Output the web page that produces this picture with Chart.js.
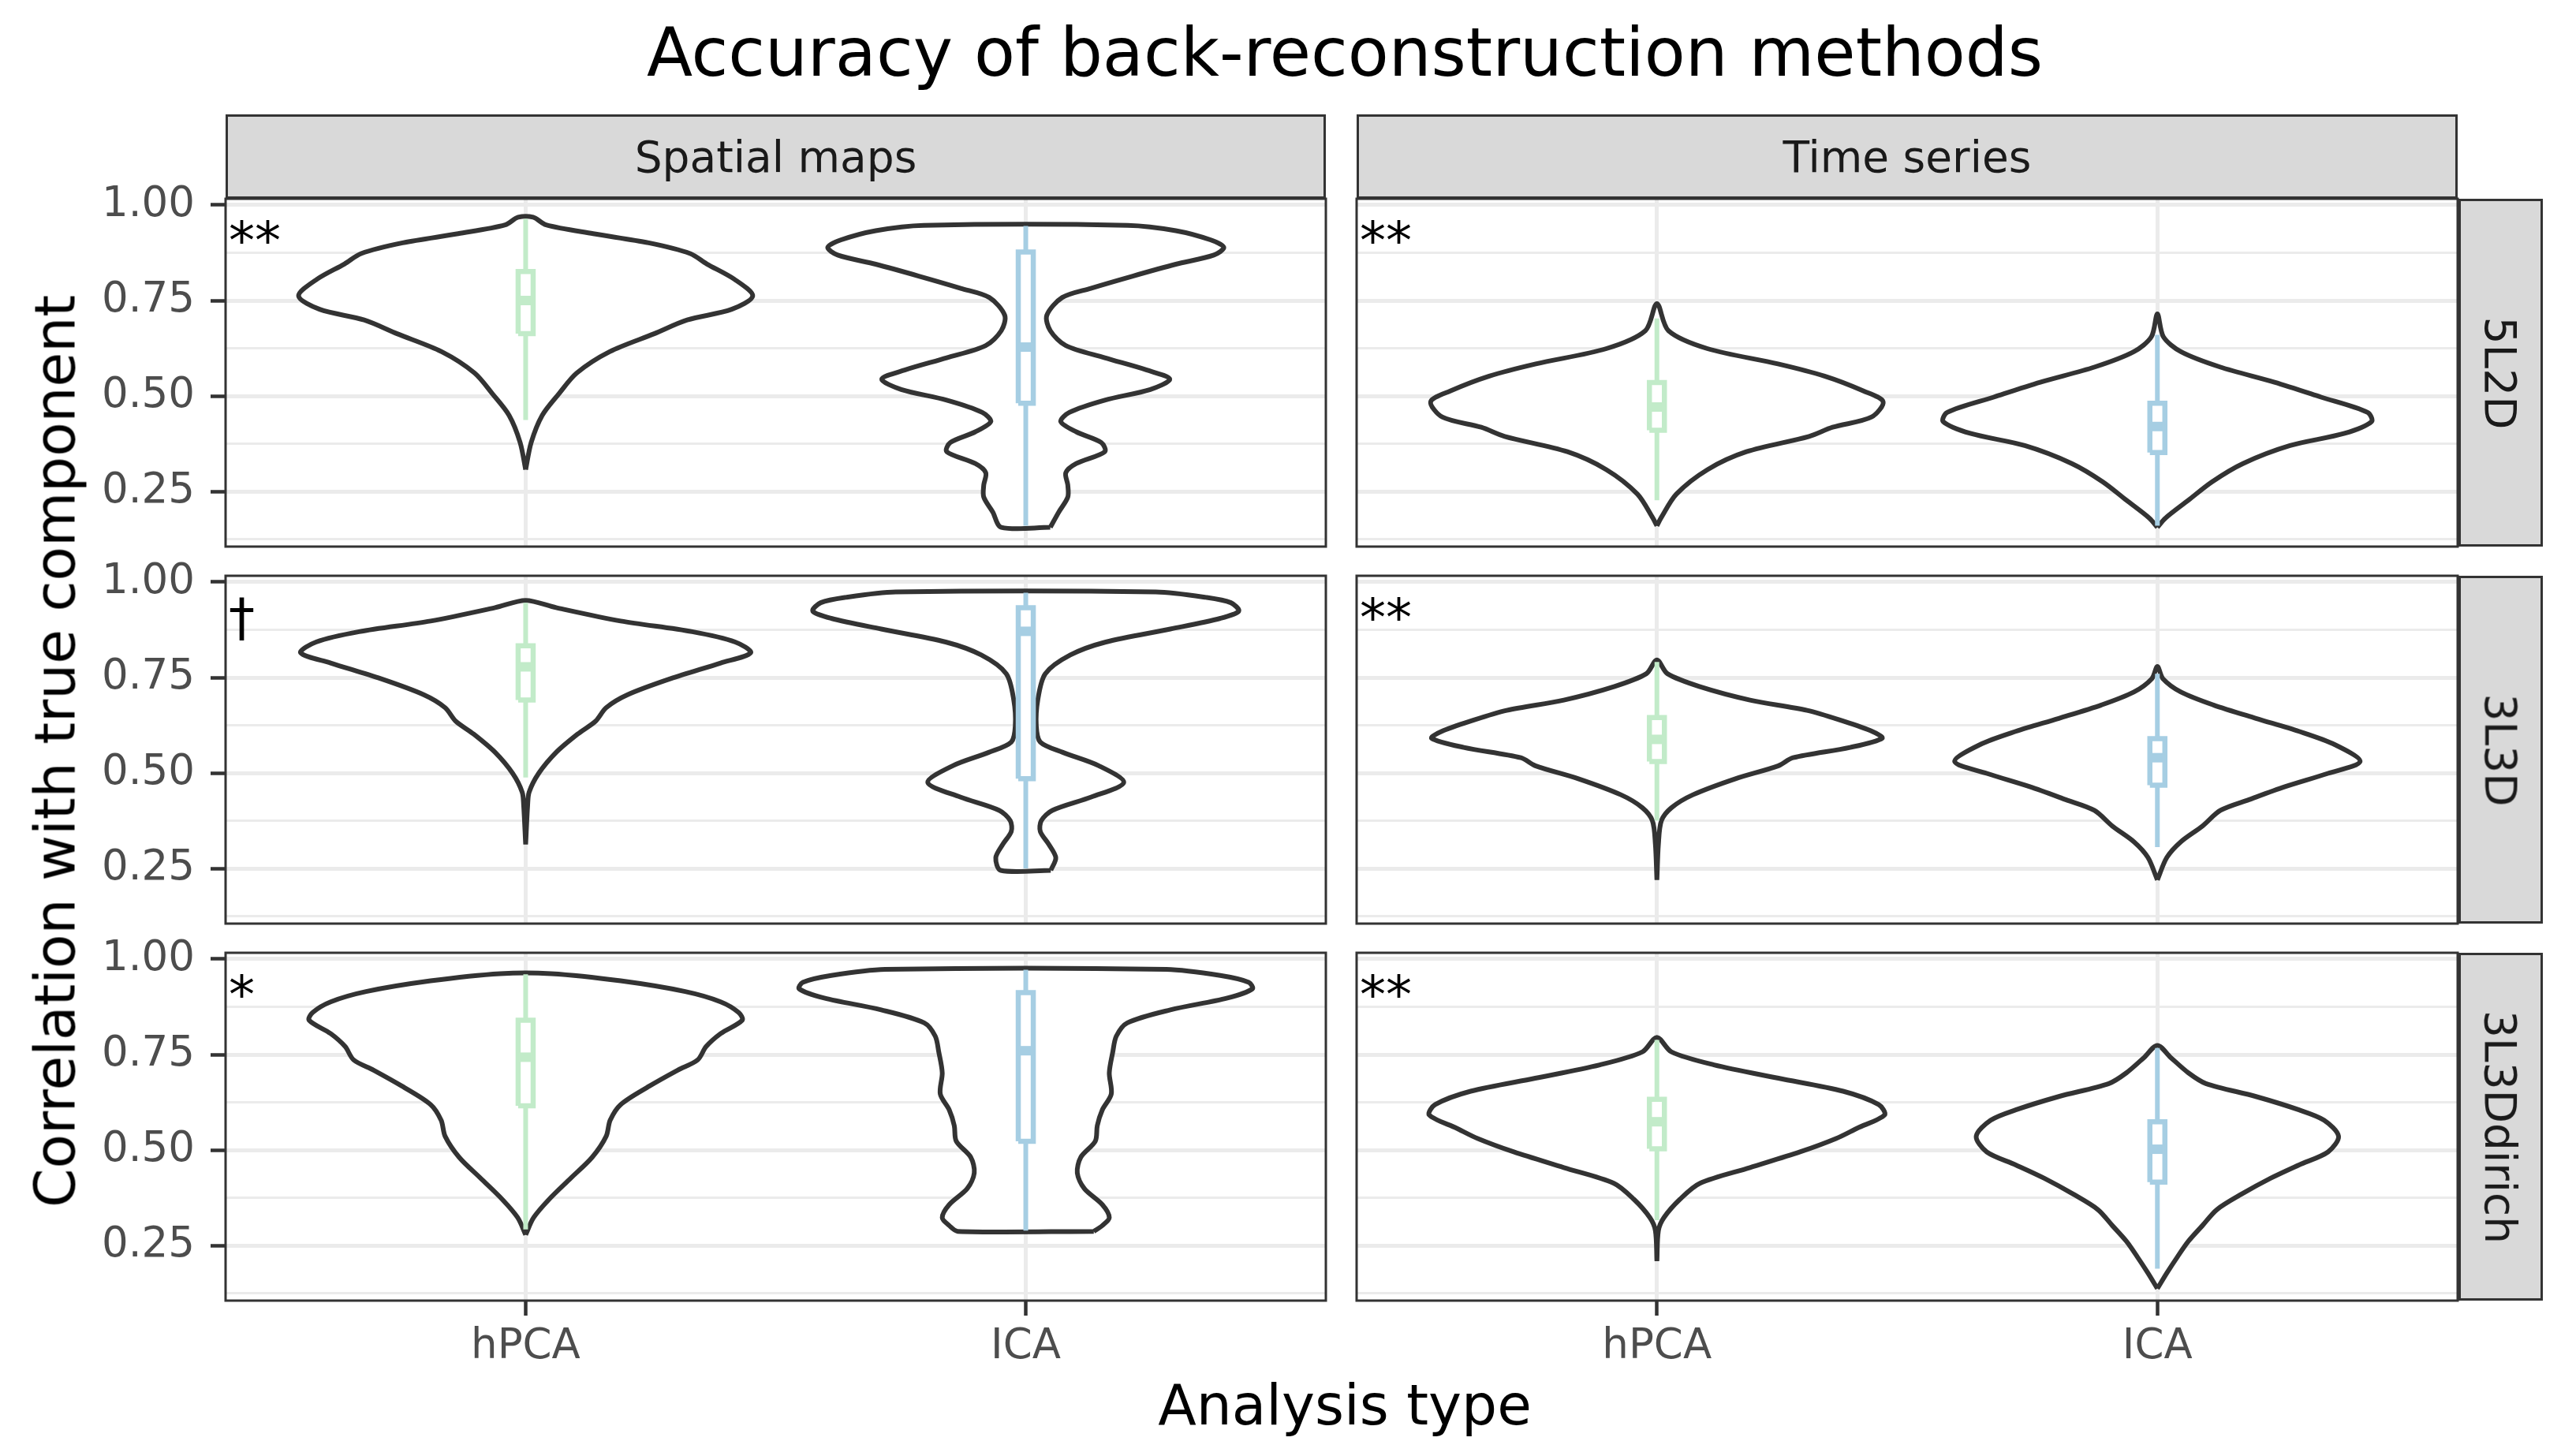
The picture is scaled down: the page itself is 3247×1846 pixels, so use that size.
<!DOCTYPE html>
<html>
<head>
<meta charset="utf-8">
<script src="https://cdn.jsdelivr.net/npm/chart.js@4.4.1/dist/chart.umd.min.js"></script>
<style>
    html, body { margin: 0; padding: 0; background: #ffffff; }
    #fig { position: relative; width: 3247px; height: 1846px; overflow: hidden; font-family: "DejaVu Sans", sans-serif; }
    #fig canvas { position: absolute; }
    .txt { position: absolute; line-height: 1; white-space: nowrap; }
    .strip { position: absolute; box-sizing: border-box; background: #d9d9d9; border: 3px solid #333333;
             color: #1a1a1a; font-size: 55px; display: flex; align-items: center; justify-content: center; }
</style>
</head>
<body>
<div id="fig"></div>
<script>

const methods = ["hPCA", "ICA"];
const analyses = ["Spatial maps", "Time series"];
const simulations = ["5L2D", "3L3D", "3L3Ddirich"];
const signif = [["**", "**"], ["†", "**"], ["*", "**"]];

const yTicks = [0.125, 0.25, 0.375, 0.5, 0.625, 0.75, 0.875, 1.0];
const yMajor = [0.25, 0.5, 0.75, 1.0];

// violin outlines: correlation (bottom to top) and half width in category units

const sm5L2D_hPCA_y = [0.307, 0.378, 0.449, 0.505, 0.560, 0.616, 0.663, 0.699, 0.727, 0.762, 0.806, 0.846, 0.873, 0.901, 0.925, 0.948, 0.968];
const sm5L2D_hPCA_w = [0, 0.011, 0.033, 0.066, 0.102, 0.168, 0.257, 0.323, 0.412, 0.454, 0.417, 0.362, 0.329, 0.246, 0.135, 0.041, 0.015];

const sm5L2D_ICA_y = [0.156, 0.196, 0.235, 0.267, 0.299, 0.323, 0.354, 0.378, 0.406, 0.433, 0.457, 0.489, 0.517, 0.544, 0.568, 0.600, 0.632, 0.671, 0.711, 0.758, 0.782, 0.814, 0.845, 0.869, 0.889, 0.909, 0.933, 0.947];
const sm5L2D_ICA_w = [0.049, 0.066, 0.084, 0.084, 0.080, 0.101, 0.158, 0.151, 0.101, 0.070, 0.087, 0.158, 0.249, 0.288, 0.242, 0.158, 0.080, 0.049, 0.042, 0.073, 0.130, 0.214, 0.300, 0.376, 0.396, 0.369, 0.300, 0.204];

const ts5L2D_hPCA_y = [0.160, 0.180, 0.243, 0.307, 0.354, 0.394, 0.418, 0.445, 0.485, 0.513, 0.552, 0.584, 0.624, 0.671, 0.742];
const ts5L2D_hPCA_w = [0, 0.008, 0.039, 0.101, 0.179, 0.304, 0.351, 0.429, 0.452, 0.413, 0.335, 0.242, 0.101, 0.023, 0];

const ts5L2D_ICA_y = [0.156, 0.180, 0.227, 0.275, 0.323, 0.370, 0.402, 0.433, 0.457, 0.497, 0.536, 0.576, 0.616, 0.655, 0.715];
const ts5L2D_ICA_w = [0, 0.016, 0.062, 0.109, 0.171, 0.265, 0.374, 0.428, 0.420, 0.327, 0.234, 0.125, 0.047, 0.012, 0];

const sm3L3D_hPCA_y = [0.313, 0.416, 0.450, 0.499, 0.554, 0.602, 0.636, 0.671, 0.705, 0.747, 0.788, 0.815, 0.843, 0.870, 0.898, 0.933, 0.952];
const sm3L3D_hPCA_w = [0, 0.004, 0.007, 0.026, 0.061, 0.104, 0.140, 0.161, 0.204, 0.290, 0.390, 0.450, 0.419, 0.333, 0.190, 0.061, 0];

const sm3L3D_ICA_y = [0.245, 0.278, 0.313, 0.347, 0.375, 0.402, 0.437, 0.475, 0.519, 0.554, 0.581, 0.623, 0.691, 0.760, 0.809, 0.843, 0.877, 0.905, 0.924, 0.946, 0.960, 0.974];
const sm3L3D_ICA_w = [0.050, 0.060, 0.046, 0.029, 0.031, 0.053, 0.131, 0.196, 0.146, 0.074, 0.029, 0.021, 0.024, 0.039, 0.089, 0.160, 0.289, 0.389, 0.426, 0.410, 0.360, 0.260];

const ts3L3D_hPCA_y = [0.220, 0.313, 0.375, 0.409, 0.443, 0.485, 0.519, 0.540, 0.567, 0.591, 0.609, 0.636, 0.664, 0.691, 0.726, 0.760, 0.796];
const ts3L3D_hPCA_w = [0, 0.003, 0.009, 0.029, 0.072, 0.157, 0.243, 0.272, 0.386, 0.450, 0.430, 0.372, 0.300, 0.186, 0.086, 0.021, 0];

const ts3L3D_ICA_y = [0.220, 0.279, 0.320, 0.361, 0.402, 0.430, 0.464, 0.499, 0.530, 0.574, 0.609, 0.643, 0.678, 0.712, 0.747, 0.779];
const ts3L3D_ICA_w = [0, 0.019, 0.047, 0.090, 0.126, 0.183, 0.255, 0.341, 0.405, 0.355, 0.283, 0.197, 0.112, 0.047, 0.011, 0];

const smDir_hPCA_y = [0.278, 0.323, 0.371, 0.426, 0.481, 0.536, 0.578, 0.619, 0.667, 0.709, 0.736, 0.771, 0.805, 0.840, 0.860, 0.888, 0.915, 0.943, 0.962];
const smDir_hPCA_w = [0, 0.016, 0.047, 0.090, 0.133, 0.161, 0.169, 0.190, 0.247, 0.304, 0.344, 0.361, 0.390, 0.433, 0.426, 0.390, 0.319, 0.190, 0.051];

const smDir_ICA_y = [0.287, 0.302, 0.323, 0.357, 0.399, 0.440, 0.481, 0.523, 0.564, 0.605, 0.647, 0.702, 0.757, 0.798, 0.833, 0.867, 0.898, 0.922, 0.939, 0.957, 0.973];
const smDir_ICA_w = [0.136, 0.153, 0.167, 0.153, 0.117, 0.103, 0.110, 0.139, 0.143, 0.153, 0.171, 0.167, 0.174, 0.181, 0.203, 0.289, 0.403, 0.453, 0.446, 0.389, 0.281];

const tsDir_hPCA_y = [0.209, 0.289, 0.323, 0.371, 0.413, 0.454, 0.495, 0.530, 0.557, 0.592, 0.619, 0.654, 0.688, 0.723, 0.757, 0.795];
const tsDir_hPCA_w = [0, 0.003, 0.014, 0.046, 0.086, 0.186, 0.286, 0.358, 0.400, 0.455, 0.443, 0.372, 0.243, 0.114, 0.029, 0];

const tsDir_ICA_y = [0.137, 0.178, 0.220, 0.261, 0.302, 0.344, 0.385, 0.426, 0.461, 0.495, 0.536, 0.578, 0.605, 0.640, 0.674, 0.702, 0.743, 0.774];
const tsDir_ICA_w = [0, 0.019, 0.040, 0.062, 0.090, 0.119, 0.169, 0.226, 0.283, 0.341, 0.362, 0.333, 0.283, 0.197, 0.097, 0.062, 0.026, 0];

// boxplots: lower whisker, q1, median, q3, upper whisker
const sm5L2D_hPCA_box = [0.437, 0.663, 0.750, 0.826, 0.964];
const sm5L2D_ICA_box = [0.160, 0.481, 0.628, 0.877, 0.945];
const ts5L2D_hPCA_box = [0.227, 0.410, 0.471, 0.535, 0.703];
const ts5L2D_ICA_box = [0.160, 0.352, 0.420, 0.481, 0.660];
const sm3L3D_hPCA_box = [0.488, 0.691, 0.778, 0.833, 0.946];
const sm3L3D_ICA_box = [0.250, 0.485, 0.871, 0.933, 0.972];
const ts3L3D_hPCA_box = [0.375, 0.530, 0.588, 0.645, 0.791];
const ts3L3D_ICA_box = [0.306, 0.468, 0.540, 0.590, 0.760];
const smDir_hPCA_box = [0.292, 0.616, 0.743, 0.840, 0.960];
const smDir_ICA_box = [0.289, 0.523, 0.760, 0.912, 0.972];
const tsDir_hPCA_box = [0.316, 0.503, 0.574, 0.633, 0.788];
const tsDir_ICA_box = [0.189, 0.416, 0.502, 0.574, 0.767];

// panels[row][col][method]
const panels = [
    [
        [[sm5L2D_hPCA_y, sm5L2D_hPCA_w, sm5L2D_hPCA_box], [sm5L2D_ICA_y, sm5L2D_ICA_w, sm5L2D_ICA_box]],
        [[ts5L2D_hPCA_y, ts5L2D_hPCA_w, ts5L2D_hPCA_box], [ts5L2D_ICA_y, ts5L2D_ICA_w, ts5L2D_ICA_box]]
    ],
    [
        [[sm3L3D_hPCA_y, sm3L3D_hPCA_w, sm3L3D_hPCA_box], [sm3L3D_ICA_y, sm3L3D_ICA_w, sm3L3D_ICA_box]],
        [[ts3L3D_hPCA_y, ts3L3D_hPCA_w, ts3L3D_hPCA_box], [ts3L3D_ICA_y, ts3L3D_ICA_w, ts3L3D_ICA_box]]
    ],
    [
        [[smDir_hPCA_y, smDir_hPCA_w, smDir_hPCA_box], [smDir_ICA_y, smDir_ICA_w, smDir_ICA_box]],
        [[tsDir_hPCA_y, tsDir_hPCA_w, tsDir_hPCA_box], [tsDir_ICA_y, tsDir_ICA_w, tsDir_ICA_box]]
    ]
];

// layout
const colLeft = [286, 1720];
const colRight = [1681, 3116];
const rowTop = [252, 730, 1208];
const panelH = 441;
const stripTop = 145;
const stripRight = [3117, 3224];
const pad = 60;

const boxColors = ["#c2ebc9", "#a6cee3"];
const boxHalf = 0.015;

const fig = document.getElementById("fig");

function addText(txt, css) {
    const d = document.createElement("div");
    d.className = "txt";
    d.textContent = txt;
    Object.assign(d.style, css);
    fig.appendChild(d);
    return d;
}

function violinPoints(cx, ys, ws) {
    const pts = [];
    const n = ys.length;
    for (let i = 0; i < n; i++)
        pts.push({ x: cx + ws[i], y: ys[i] });
    for (let i = n - 1; i >= 0; i--) {
        if (i === n - 1 && ws[i] === 0)
            continue;
        pts.push({ x: cx - ws[i], y: ys[i] });
    }
    if (ws[0] > 0)
        pts.push({ x: cx + ws[0], y: ys[0] });
    return pts;
}

const panelBorder = {
    id: "panelBorder",
    afterDatasetsDraw(chart) {
        const a = chart.chartArea;
        const ctx = chart.ctx;
        ctx.save();
        ctx.strokeStyle = "#333333";
        ctx.lineWidth = 3;
        ctx.strokeRect(a.left, a.top, a.right - a.left, a.bottom - a.top);
        ctx.restore();
    }
};

function makePanel(r, c) {

    const bottom = r === 2;
    const left = c === 0;

    const padLeft = left ? 0 : pad;
    const yAxisW = left ? colLeft[0] : 0;
    const xAxisH = bottom ? 110 : 0;
    const padBottom = bottom ? 0 : pad;

    const w = padLeft + yAxisW + (colRight[c] - colLeft[c]) + pad;
    const h = pad + panelH + xAxisH + padBottom;

    const canvas = document.createElement("canvas");
    canvas.width = w;
    canvas.height = h;
    canvas.style.left = (colLeft[c] - yAxisW - padLeft) + "px";
    canvas.style.top = (rowTop[r] - pad) + "px";
    canvas.style.width = w + "px";
    canvas.style.height = h + "px";
    fig.appendChild(canvas);

    const datasets = [];

    panels[r][c].forEach((m, k) => {

        const cx = k + 1;
        const [ys, ws, box] = m;
        const col = boxColors[k];

        datasets.push({
            data: violinPoints(cx, ys, ws),
            showLine: true,
            borderColor: "#333333",
            borderWidth: 6,
            backgroundColor: "#ffffff",
            fill: "shape",
            tension: 0.3,
            pointRadius: 0,
            order: 4
        });

        datasets.push({
            data: [{ x: cx, y: box[0] }, { x: cx, y: box[4] }],
            showLine: true,
            borderColor: col,
            borderWidth: 6,
            pointRadius: 0,
            order: 3
        });

        datasets.push({
            data: [
                { x: cx - boxHalf, y: box[1] },
                { x: cx + boxHalf, y: box[1] },
                { x: cx + boxHalf, y: box[3] },
                { x: cx - boxHalf, y: box[3] },
                { x: cx - boxHalf, y: box[1] }
            ],
            showLine: true,
            borderColor: col,
            borderWidth: 6.5,
            borderJoinStyle: "miter",
            backgroundColor: "#ffffff",
            fill: "shape",
            pointRadius: 0,
            order: 2
        });

        datasets.push({
            data: [{ x: cx - boxHalf, y: box[2] }, { x: cx + boxHalf, y: box[2] }],
            showLine: true,
            borderColor: col,
            borderWidth: 12,
            pointRadius: 0,
            order: 1
        });
    });

    const tickFont = { family: "DejaVu Sans", size: 53 };

    new Chart(canvas.getContext("2d"), {

        type: "scatter",

        data: { datasets: datasets },

        options: {

            responsive: false,
            animation: false,
            devicePixelRatio: 1,

            layout: {
                padding: { top: pad, right: pad, bottom: padBottom, left: padLeft }
            },

            plugins: {
                legend: { display: false },
                tooltip: { enabled: false }
            },

            scales: {

                x: {
                    type: "linear",
                    min: 0.4,
                    max: 2.6,
                    afterBuildTicks: s => { s.ticks = methods.map((m, i) => ({ value: i + 1 })); },
                    afterFit: s => { s.height = xAxisH; },
                    border: { display: false },
                    grid: {
                        color: "#ebebeb",
                        lineWidth: 5,
                        drawTicks: bottom,
                        tickLength: 19,
                        tickColor: "#333333",
                        tickWidth: 4.5
                    },
                    ticks: {
                        display: bottom,
                        autoSkip: false,
                        maxRotation: 0,
                        padding: 8,
                        color: "#4d4d4d",
                        font: tickFont,
                        callback: v => methods[Math.round(v) - 1]
                    }
                },

                y: {
                    type: "linear",
                    min: 0.1055,
                    max: 1.0165,
                    afterBuildTicks: s => { s.ticks = yTicks.map(v => ({ value: v })); },
                    afterFit: s => { s.width = yAxisW; },
                    border: { display: false },
                    grid: {
                        color: "#ebebeb",
                        lineWidth: ctx => (ctx.tick && yMajor.includes(ctx.tick.value)) ? 5 : 3,
                        drawTicks: left,
                        tickLength: 19,
                        tickColor: ctx => (ctx.tick && yMajor.includes(ctx.tick.value)) ? "#333333" : "rgba(0,0,0,0)",
                        tickWidth: 4.5
                    },
                    ticks: {
                        display: left,
                        autoSkip: false,
                        padding: 20,
                        color: "#4d4d4d",
                        font: tickFont,
                        callback: v => yMajor.includes(v) ? v.toFixed(2) : ""
                    }
                }
            }
        },

        plugins: [panelBorder]
    });

    addText(signif[r][c], {
        left: (colLeft[c] + 4) + "px",
        top: (rowTop[r] + 21) + "px",
        fontSize: "66px",
        color: "#000000"
    });
}

for (let r = 0; r < simulations.length; r++)
    for (let c = 0; c < analyses.length; c++)
        makePanel(r, c);

// strips
analyses.forEach((a, c) => {
    const d = document.createElement("div");
    d.className = "strip";
    Object.assign(d.style, {
        left: colLeft[c] + "px",
        top: stripTop + "px",
        width: (colRight[c] - colLeft[c]) + "px",
        height: (rowTop[0] - stripTop) + "px"
    });
    d.textContent = a;
    fig.appendChild(d);
});

simulations.forEach((s, r) => {
    const d = document.createElement("div");
    d.className = "strip";
    Object.assign(d.style, {
        left: stripRight[0] + "px",
        top: rowTop[r] + "px",
        width: (stripRight[1] - stripRight[0]) + "px",
        height: panelH + "px"
    });
    const span = document.createElement("span");
    span.textContent = s;
    span.style.transform = "rotate(90deg)";
    span.style.whiteSpace = "nowrap";
    span.style.display = "inline-block";
    d.appendChild(span);
    fig.appendChild(d);
});

// titles
addText("Accuracy of back-reconstruction methods", {
    left: "205px", width: "3000px", textAlign: "center",
    top: "24px", fontSize: "85px", color: "#000000"
});

addText("Analysis type", {
    left: "205px", width: "3000px", textAlign: "center",
    top: "1746px", fontSize: "71px", color: "#000000"
});

addText("Correlation with true component", {
    left: (70 - 700) + "px", width: "1400px", height: "71px", textAlign: "center",
    top: (952 - 35) + "px", fontSize: "71px", color: "#000000",
    transform: "rotate(-90deg)"
});

</script>
</body>
</html>
